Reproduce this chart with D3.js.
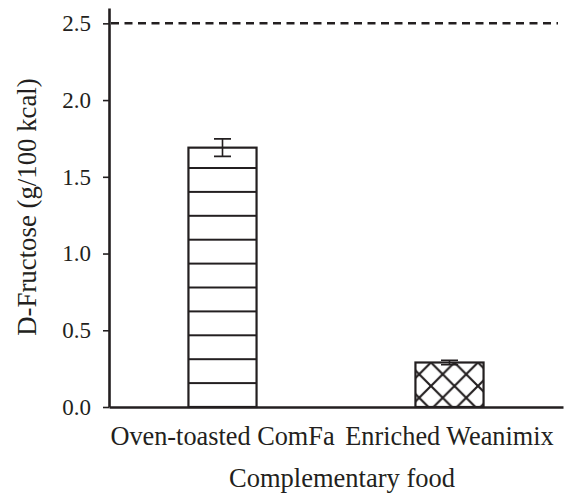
<!DOCTYPE html>
<html>
<head>
<meta charset="utf-8">
<script src="https://cdn.jsdelivr.net/npm/d3@7"></script>
<style>
    body { margin: 0; background: #fff; }
    svg { display: block; }
    svg text { font-family: 'Liberation Serif', 'Times New Roman', Times, serif; }
</style>
</head>
<body>
<div id="chart"></div>
<script>
const categories = ['Oven-toasted ComFa', 'Enriched Weanimix'];
const values = [1.69, 0.29];
const errors = [0.057, 0.015];
const patterns = ['hlines', 'cross'];
const yTicks = [0, 0.5, 1.0, 1.5, 2.0, 2.5];
const yMax = 2.6;
const referenceLevel = 2.5;

const WIDTH = 568, HEIGHT = 499;
const margin = {top: 8, right: 5, bottom: 92, left: 109};
const INK = '#231f20';

const svg = d3.select('#chart').append('svg')
    .attr('width', WIDTH)
    .attr('height', HEIGHT);

const x = d3.scaleBand()
    .domain(categories)
    .range([margin.left, WIDTH - margin.right])
    .paddingInner(0.7)
    .paddingOuter(0.35);

const y = d3.scaleLinear()
    .domain([0, yMax])
    .range([HEIGHT - margin.bottom, margin.top]);

// fill patterns, anchored to the plot so they line up like the original
const defs = svg.append('defs');
const stripe = 23.9;
const hl = defs.append('pattern')
    .attr('id', 'hlines')
    .attr('patternUnits', 'userSpaceOnUse')
    .attr('x', 0)
    .attr('y', y(0) - stripe / 2)
    .attr('width', 20)
    .attr('height', stripe);
hl.append('path')
    .attr('d', `M-1,${stripe / 2}H21`)
    .attr('stroke', INK)
    .attr('stroke-width', 2);

const cell = 23.5;
const cr = defs.append('pattern')
    .attr('id', 'cross')
    .attr('patternUnits', 'userSpaceOnUse')
    .attr('x', x(categories[1]) + 15.5)
    .attr('y', y(values[1]))
    .attr('width', cell)
    .attr('height', cell);
cr.append('path')
    .attr('d', `M-2,-2L${cell + 2},${cell + 2}M${cell + 2},-2L-2,${cell + 2}`)
    .attr('stroke', INK)
    .attr('stroke-width', 2.2);

// bars
const bars = svg.append('g').attr('class', 'bars')
    .selectAll('g')
    .data(categories)
    .join('g');

bars.append('rect')
    .attr('x', d => x(d))
    .attr('y', (d, i) => y(values[i]))
    .attr('width', x.bandwidth())
    .attr('height', (d, i) => y(0) - y(values[i]))
    .attr('fill', '#fff');

bars.append('rect')
    .attr('x', d => x(d))
    .attr('y', (d, i) => y(values[i]))
    .attr('width', x.bandwidth())
    .attr('height', (d, i) => y(0) - y(values[i]))
    .attr('fill', (d, i) => `url(#${patterns[i]})`)
    .attr('stroke', INK)
    .attr('stroke-width', 2.2);

// error bars
const CAP = 8.5;
svg.append('g').attr('class', 'errors')
    .attr('stroke', INK)
    .attr('stroke-width', 1.6)
    .selectAll('path')
    .data(categories)
    .join('path')
    .attr('fill', 'none')
    .attr('d', (d, i) => {
        const cx = x(d) + x.bandwidth() / 2;
        const hi = y(values[i] + errors[i]);
        const lo = y(values[i] - errors[i]);
        return `M${cx - CAP},${hi}H${cx + CAP}M${cx},${hi}V${lo}M${cx - CAP},${lo}H${cx + CAP}`;
    });

// dashed reference line
svg.append('line')
    .attr('x1', margin.left + 2)
    .attr('x2', WIDTH - 10)
    .attr('y1', y(referenceLevel))
    .attr('y2', y(referenceLevel))
    .attr('stroke', INK)
    .attr('stroke-width', 2.5)
    .attr('stroke-dasharray', '8,5.5');

// axes
const yAxis = svg.append('g')
    .attr('transform', `translate(${margin.left},0)`)
    .call(d3.axisLeft(y)
        .tickValues(yTicks)
        .tickFormat(d3.format('.1f'))
        .tickSize(6)
        .tickSizeOuter(0)
        .tickPadding(12))
    .attr('font-family', null)
    .attr('font-size', 23);

yAxis.select('.domain').attr('stroke', INK).attr('stroke-width', 2.6);
yAxis.selectAll('.tick line').attr('stroke', INK).attr('stroke-width', 1.6);
yAxis.selectAll('.tick text').attr('fill', INK);

const xAxis = svg.append('g')
    .attr('transform', `translate(0,${y(0)})`)
    .call(d3.axisBottom(x)
        .tickSize(0)
        .tickSizeOuter(0)
        .tickPadding(19.5))
    .attr('font-family', null)
    .attr('font-size', 26.3);

xAxis.select('.domain').attr('stroke', INK).attr('stroke-width', 2.6);
xAxis.selectAll('.tick text').attr('fill', INK);

// titles
svg.append('text')
    .attr('x', 342)
    .attr('y', 487)
    .attr('text-anchor', 'middle')
    .attr('fill', INK)
    .attr('font-size', 26.5)
    .text('Complementary food');

svg.append('text')
    .attr('transform', `translate(36,207) rotate(-90)`)
    .attr('text-anchor', 'middle')
    .attr('fill', INK)
    .attr('font-size', 26.8)
    .text('D-Fructose (g/100 kcal)');
</script>
</body>
</html>
